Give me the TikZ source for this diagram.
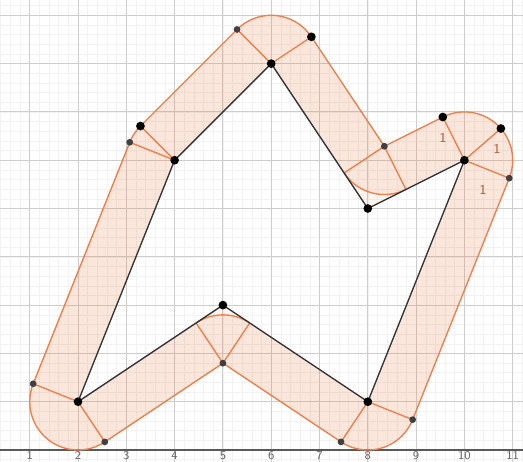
\documentclass[tikz,border=0pt]{standalone}
\definecolor{bandline}{RGB}{236,128,76}
\definecolor{gridmajor}{RGB}{205,205,205}
\definecolor{gridminor}{RGB}{242,242,242}
\begin{document}
\begin{tikzpicture}[
  band/.style={draw=bandline,line width=0.8pt},
  bandfill/.style={fill=bandline,fill opacity=0.2},
  poly/.style={draw=black!80,line width=0.8pt},
  blackpt/.style={fill=black},
  graypt/.style={fill=black!75},
  radlabel/.style={text=bandline!75!black,font=\sffamily\footnotesize},
  axislabel/.style={text=black!60,font=\sffamily\scriptsize,anchor=north,inner sep=0pt}]
\useasboundingbox (0.385,-0.228) rectangle (11.213,9.317);
\clip (0.385,-0.228) rectangle (11.213,9.317);

% grid and axis
\draw[gridminor,line width=0.3pt,step=0.2] (0,-1) grid (12,10);
\draw[gridmajor,line width=0.5pt,step=1] (0,-1) grid (12,10);
\draw[black!65,line width=0.7pt] (0,0) -- (12,0);
\foreach \i in {1,...,11}
  \node[axislabel] (x\i) at (\i,-0.025) {\i};

% polygon
\coordinate (P1) at (2,1);
\coordinate (P2) at (4,6);
\coordinate (P3) at (6,8);
\coordinate (P4) at (8,5);
\coordinate (P5) at (10,6);
\coordinate (P6) at (8,1);
\coordinate (P7) at (5,3);

% offset points at distance 1
\coordinate (A1) at (2.5547,0.1679);
\coordinate (B1) at (1.0715,1.3714);
\coordinate (A2) at (3.0715,6.3714);
\coordinate (B2) at (3.2929,6.7071);
\coordinate (A3) at (5.2929,8.7071);
\coordinate (B3) at (6.8321,8.5547);
\coordinate (I4) at (8.3424,6.2892);
\coordinate (F4a) at (7.5103,5.7345);
\coordinate (F4b) at (8.7896,5.3948);
\coordinate (A5) at (9.5528,6.8944);
\coordinate (B5) at (10.9285,5.6286);
\coordinate (C5) at (10.7547,6.6561);
\coordinate (A6) at (8.9285,0.6286);
\coordinate (B6) at (7.4453,0.1679);
\coordinate (I7) at (5,1.7981);
\coordinate (F7a) at (5.5547,2.6302);
\coordinate (F7b) at (4.4453,2.6302);

% band
\path[bandfill,even odd rule]
  (B1) -- (A2) arc[start angle=158.20,end angle=135,radius=1]
  -- (A3) arc[start angle=135,end angle=33.69,radius=1]
  -- (I4) -- (A5) arc[start angle=116.57,end angle=-21.80,radius=1]
  -- (A6) arc[start angle=-21.80,end angle=-123.69,radius=1]
  -- (I7) -- (A1) arc[start angle=-56.31,end angle=-201.80,radius=1] -- cycle
  (P1) -- (P2) -- (P3) -- (F4a) arc[start angle=213.69,end angle=296.57,radius=1]
  -- (P5) -- (P6) -- (F7a) arc[start angle=56.31,end angle=123.69,radius=1] -- cycle;
\path[fill=bandline,fill opacity=0.08] (F4a) -- (P4) -- (F4b)
  arc[start angle=296.57,end angle=213.69,radius=1] -- cycle;
\path[fill=bandline,fill opacity=0.08] (F7a) -- (P7) -- (F7b)
  arc[start angle=123.69,end angle=56.31,radius=1] -- cycle;

\draw[band]
  (B1) -- (A2) arc[start angle=158.20,end angle=135,radius=1]
  -- (A3) arc[start angle=135,end angle=33.69,radius=1]
  -- (I4) -- (A5) arc[start angle=116.57,end angle=-21.80,radius=1]
  -- (A6) arc[start angle=-21.80,end angle=-123.69,radius=1]
  -- (I7) -- (A1) arc[start angle=-56.31,end angle=-201.80,radius=1] -- cycle;
\draw[band] (F4a) arc[start angle=213.69,end angle=296.57,radius=1];
\draw[band] (F7a) arc[start angle=56.31,end angle=123.69,radius=1];
\draw[band] (P1) -- (A1) (P1) -- (B1) (P2) -- (A2) (P2) -- (B2)
  (P3) -- (A3) (P3) -- (B3) (P5) -- (A5) (P5) -- (C5) (P5) -- (B5)
  (P6) -- (A6) (P6) -- (B6) (I4) -- (F4a) (I4) -- (F4b)
  (I7) -- (F7a) (I7) -- (F7b);

\draw[poly] (P1) -- (P2) -- (P3) -- (P4) -- (P5) -- (P6) -- (P7) -- cycle;

% points
\foreach \p in {P1,P2,P3,P4,P5,P6,P7,B2,B3,A5,C5}
  \fill[blackpt] (\p) circle[radius=0.09];
\foreach \p in {A1,B1,A2,A3,I4,B5,A6,B6,I7}
  \fill[graypt] (\p) circle[radius=0.07];

\node[radlabel] (r1) at (9.557,6.46) {1};
\node[radlabel] (r2) at (10.675,6.23) {1};
\node[radlabel] (r3) at (10.385,5.38) {1};
\end{tikzpicture}
\end{document}
